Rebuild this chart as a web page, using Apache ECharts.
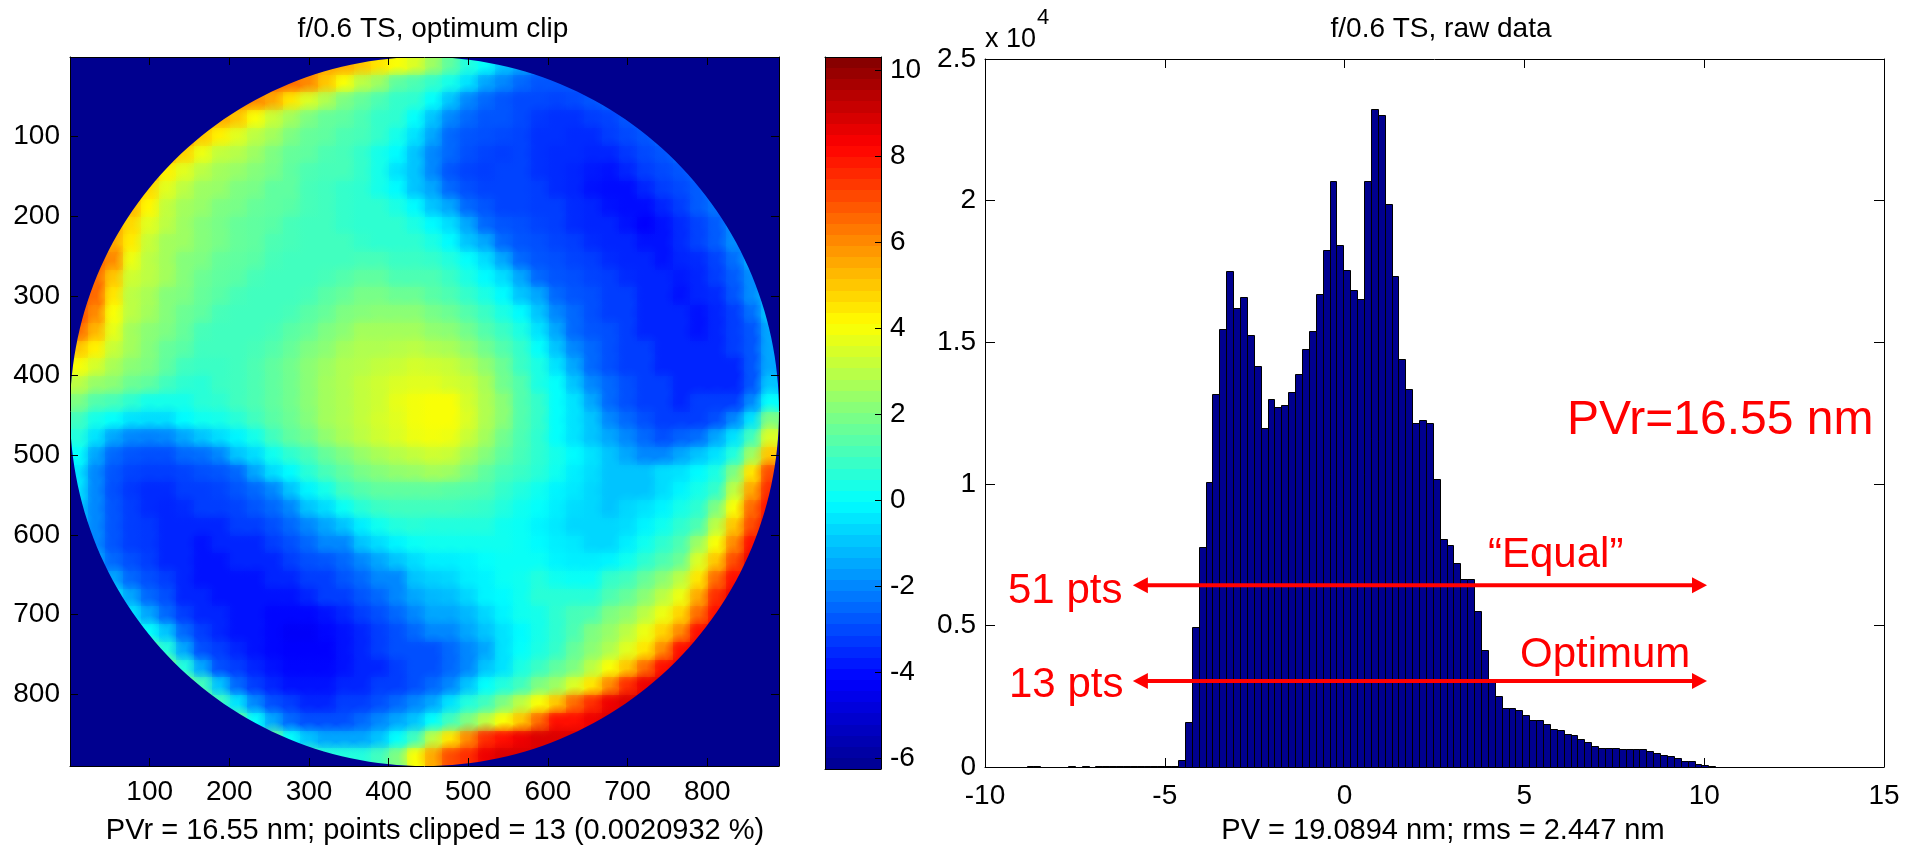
<!DOCTYPE html>
<html><head><meta charset="utf-8">
<style>html,body{margin:0;padding:0;background:#fff}#c{width:1919px;height:846px}</style>
<script src="https://cdn.jsdelivr.net/npm/echarts@6/dist/echarts.min.js"></script>
</head><body><div id="c"></div>
<script>
const mapTicks=[100,200,300,400,500,600,700,800];
const colorTicks=[-6,-4,-2,0,2,4,6,8,10];
// surface height in nm, coarse cells; each row is centred on the disk
const row00=[6,5.5,5.5,5,4.5,4,3.5,2.5,1.5,0.5,0,-1,-1.5,-2];
const row01=[6.5,6.5,6,5,4,3,2.5,1.5,1.2,.8,.3,-.5,-1.5,-2,-2.5,-2.8,-2.8,-2.8];
const row02=[6,6,5.5,4.5,3.5,2.8,2,1.6,1.2,.8,.7,0,-1,-2,-2.5,-2.8,-3,-3,-3.1,-3,-2.8,-2.5];
const row03=[6,5.5,5,4,3.2,2.6,2,1.6,1.5,1.2,.8,.7,0,-1,-2,-2.5,-2.8,-2.8,-3,-3.3,-3.4,-3.4,-3.2,-3.1,-2.8,-2.4];
const row04=[6,5,4.3,3.6,3,2.6,2,1.6,1.5,1.2,1.1,.8,.3,-.5,-1.5,-2.5,-2.8,-2.9,-3,-3.1,-3.4,-3.4,-3.5,-3.5,-3.2,-3,-2.8,-2.4];
const row05=[5.5,4.8,3.8,3.1,2.9,2.5,2,1.6,1.5,1.2,1.1,.8,.3,-.1,-1,-2,-2.5,-2.9,-3.1,-3.2,-3.1,-3.4,-3.5,-3.5,-3.6,-3.6,-3.3,-3,-2.8,-2.4];
const row06=[5.5,4.3,3.6,3,2.6,2.4,2.1,1.9,1.5,1.2,1.1,1.1,.8,.3,-.5,-1,-2,-2.8,-3.1,-3.2,-3.1,-3.1,-3.4,-3.5,-3.6,-3.8,-3.9,-3.6,-3.2,-3,-2.8,-2.4];
const row07=[5.8,4.7,3.6,3,2.5,2.4,2,1.9,1.5,1.5,1.1,1,.8,.7,.3,-.1,-1,-1.5,-2.5,-2.9,-3.1,-3.1,-3.1,-3.2,-3.5,-3.6,-3.9,-4,-4,-3.6,-3.2,-3,-2.7,-1.9];
const row08=[5.3,4.2,3.1,2.6,2.4,2,1.9,1.6,1.5,1.4,1.1,1,.8,.7,.7,.4,-.1,-1,-1.5,-2.5,-2.8,-3.1,-3.1,-3.2,-3.2,-3.5,-3.6,-3.9,-4,-4,-3.6,-3.2,-2.7,-2.3];
const row09=[5.5,4.7,3.6,3,2.5,2.1,1.9,1.6,1.5,1.4,1.1,1,1,.8,.7,.7,.7,.4,-.1,-.6,-1.5,-2.5,-2.8,-2.9,-3.1,-3.2,-3.5,-3.6,-3.6,-3.9,-4.2,-3.9,-3.5,-3.1,-2.7,-1.9];
const row10=[5.5,4.4,3.2,2.6,2.5,2.1,1.9,1.6,1.5,1.2,1.1,1,1,1,.8,.7,.7,.7,.4,-.1,-1,-1.5,-2.5,-2.8,-2.9,-3.1,-3.2,-3.5,-3.6,-3.6,-3.9,-3.9,-3.5,-3.1,-2.7,-1.9];
const row11=[6.5,6,3.8,3,2.6,2.1,2,1.6,1.5,1.4,1.1,1,1,1,1,1.1,1.1,.9,.9,.8,.5,0,-.6,-1.5,-2.5,-2.8,-2.9,-3.1,-3.2,-3.5,-3.6,-3.6,-3.9,-3.6,-3.5,-3.1,-2.4,-1.4];
const row12=[6.5,5,3.3,3,2.6,2.1,1.7,1.5,1.4,1.1,1,1,1,1.1,1.3,1.5,1.5,1.2,1.2,1.2,.9,.4,-.1,-.6,-1.5,-2.5,-2.8,-2.9,-3.1,-3.2,-3.5,-3.6,-3.6,-3.8,-3.6,-3.2,-2.7,-1.9];
const row13=[7,6.5,4.5,3,2.7,2.1,2,1.6,1.4,1.1,1,1,1,1.1,1.4,1.6,1.9,1.9,1.7,1.7,1.4,1.2,.8,.4,-.1,-1,-1.5,-2.5,-2.8,-2.9,-3.2,-3.2,-3.6,-3.6,-3.9,-3.6,-3.5,-2.8,-1.9,-1];
const row14=[7,6,4,3,2.6,2.1,1.7,1.5,1.1,1,1,1,1.1,1.4,1.6,2,2.1,2.2,2.2,2.2,1.9,1.7,1.3,.9,.4,-.1,-1,-2,-2.5,-2.9,-3.2,-3.2,-3.6,-3.6,-3.6,-3.9,-3.6,-3.2,-2.4,-1];
const row15=[6.5,5.3,3.7,2.6,2.2,2,1.6,1.1,1,1,1,1.1,1.4,1.6,2,2.2,2.6,2.6,2.6,2.6,2.3,2.2,1.8,1.3,.9,.4,-.5,-1.5,-2.5,-2.8,-2.9,-3.2,-3.6,-3.6,-3.6,-3.9,-3.6,-3.2,-2.8,-1.5];
const row16=[5,4.3,3.2,2.6,2.1,1.6,1.4,1,1,1,1.1,1.3,1.6,2,2.2,2.6,2.8,2.8,2.9,3,2.8,2.7,2.3,1.8,1.3,.8,0,-1,-2,-2.5,-2.9,-3.2,-3.2,-3.6,-3.6,-3.6,-3.6,-3.2,-2.8,-1.5];
const row17=[4,3.4,2.7,2.2,2,1.5,1,.9,.9,1,1.2,1.5,1.8,2.2,2.5,2.8,2.9,3.1,3.2,3.4,3.3,3.2,2.8,2.3,1.7,.9,.4,-.5,-1.5,-2.5,-2.9,-3.2,-3.2,-3.6,-3.6,-3.6,-3.6,-3.6,-2.8,-1.5];
const row18=[3,2.4,2.2,1.7,1.5,1,.7,.6,.9,1,1.2,1.5,1.8,2.2,2.6,2.8,3.1,3.3,3.5,3.6,3.6,3.4,3.2,2.7,1.8,1.3,.4,0,-1,-2,-2.5,-2.9,-3.2,-3.2,-3.6,-3.6,-3.6,-3.6,-2.8,-1];
const row19=[2,1.3,1.1,.7,.3,.3,.3,.6,.7,1,1.2,1.5,1.8,2.2,2.6,2.8,3.1,3.3,3.7,3.9,4,4,3.4,2.8,2.2,1.3,.8,0,-.5,-1.5,-2.5,-2.9,-3.2,-3.2,-3.6,-3.2,-3.2,-3.2,-2,0];
const row20=[1,.3,0,-.5,-.6,-.6,-.1,.2,.3,.6,1,1.4,1.7,2.1,2.6,2.8,3.1,3.4,3.6,3.9,4,4,3.5,2.8,2.2,1.3,.8,0,-.5,-1,-2,-2.5,-2.9,-3.2,-3.2,-3.2,-2.9,-2,-.5,2];
const row21=[.5,-.5,-1.5,-2,-2.1,-2,-1.5,-1,-.6,-.2,.3,1,1.5,1.8,2.3,2.7,3,3.3,3.5,3.8,3.9,3.8,3.2,2.6,1.8,1.2,.7,0,-.5,-1,-1.5,-2,-2.5,-2.9,-2.6,-2.4,-1.5,-.5,1,3.5];
const row22=[0,-1.5,-2.5,-2.8,-2.9,-2.9,-2.5,-2.4,-2,-1,-.6,.2,.7,1.1,1.6,2,2.4,2.7,2.9,3.1,3.3,3.2,2.6,2.1,1.5,1.1,.7,.3,-.1,-.5,-1,-1.5,-2,-2,-1.5,-1,-.5,.5,2.5,5];
const row23=[-.5,-2,-2.8,-3.1,-3.2,-3.2,-3.1,-2.9,-2.8,-2.5,-1.5,-.6,-.1,.6,1.1,1.5,1.9,2.1,2.3,2.4,2.6,2.5,2,1.5,1.1,.9,.6,.2,-.3,-.6,-1,-1,-1,-.6,-.5,-.1,.4,2,4.5,7];
const row24=[-.5,-2,-2.9,-3.3,-3.5,-3.5,-3.2,-3.2,-3.1,-2.8,-2.5,-2,-1,-.2,.3,1,1.3,1.5,1.5,1.5,1.5,1.4,1.3,1.2,.8,.5,.2,-.2,-.4,-.7,-1,-1,-1,-.6,-.2,.3,.8,3,5.5,7.5];
const row25=[-1,-2,-2.8,-3.2,-3.5,-3.6,-3.5,-3.2,-3.2,-3.1,-2.8,-2.5,-2,-1,-.6,.1,.6,.9,1,1,1,1,.9,.8,.5,.2,0,-.3,-.6,-.7,-1,-.7,-.5,-.2,.3,.7,2,4,6.5,8];
const row26=[-1,-2,-2.8,-3.2,-3.3,-3.6,-3.6,-3.6,-3.6,-3.2,-3.2,-2.9,-2.5,-2,-1.5,-1,-.3,.2,.5,.6,.5,.5,.5,.5,.2,.1,-.2,-.4,-.7,-.7,-.7,-.6,-.2,.2,.7,1.2,3,5,7,8.5];
const row27=[-2,-2.8,-3.2,-3.3,-3.6,-3.6,-3.9,-3.6,-3.6,-3.6,-3.2,-2.9,-2.5,-2,-2,-1,-.6,-.2,.1,.2,.2,.2,.2,.2,.1,-.1,-.3,-.4,-.7,-.7,-.3,.2,.7,1.2,2.5,4,6,8];
const row28=[-1.5,-2.5,-2.9,-3.2,-3.6,-3.6,-3.9,-3.9,-3.6,-3.6,-3.6,-3.2,-2.9,-2.8,-2.5,-2,-1.5,-1,-.6,-.3,-.3,-.2,0,.1,.1,.1,-.2,-.3,-.3,-.2,.2,.7,1.2,1.7,3.5,5,7,8.5];
const row29=[-1.5,-2.5,-2.9,-3.2,-3.6,-3.9,-3.9,-3.9,-3.9,-3.6,-3.6,-3.2,-3.2,-2.8,-2.5,-2,-2,-1,-.8,-.7,-.3,-.2,.1,.2,.5,.2,.1,.1,.8,1,1.6,2.2,3,4.5,6.5,8];
const row30=[-.5,-1.5,-2.5,-2.9,-3.6,-3.6,-3.9,-3.9,-3.9,-3.9,-3.9,-3.6,-3.2,-3.2,-2.8,-2.5,-2,-1.5,-1.2,-1.1,-.7,-.2,-.1,.2,.6,.6,.6,.6,1.2,1.6,2.2,3,3.8,5.5,7.5,8.5];
const row31=[-.5,-1.5,-2.5,-3.2,-3.6,-3.6,-3.9,-3.9,-4.1,-4.1,-4.1,-3.9,-3.6,-3.2,-2.9,-2.5,-2,-1.5,-1.5,-1.2,-.7,-.2,.2,.3,.7,1.1,1.2,2,2.3,3,3.8,4.8,6.5,8];
const row32=[.5,0,-1,-2.5,-3.2,-3.6,-3.9,-3.9,-4.1,-4.3,-4.3,-4.1,-3.9,-3.6,-3.2,-2.9,-2.5,-2,-2,-1.5,-1,-.5,-.1,.3,.7,1.2,2,2.4,3,3.8,4.8,6,8,8.5];
const row33=[1.5,.5,-1.5,-2.9,-3.2,-3.6,-3.9,-4.1,-4.2,-4.2,-4.2,-3.9,-3.6,-3.2,-2.9,-2.9,-2.9,-2.5,-2,-1.5,-.5,0,.4,.8,1.6,2.2,2.8,3.6,4.5,6,8,8.5];
const row34=[2,.5,-1.5,-2.9,-3.2,-3.6,-3.9,-4.1,-4.1,-4.1,-3.9,-3.6,-3.6,-3.2,-2.9,-2.9,-2.5,-2,-1,-.5,.4,.9,1.5,2,3,4,5,6.5,8,8.5];
const row35=[2,1,-1,-2.5,-3.2,-3.6,-3.9,-3.9,-3.9,-3.6,-3.6,-3.2,-3.2,-2.9,-2.5,-2,-1,0,.5,1,2,2.5,3.5,4.5,6,7.5,8.5,8.8];
const row36=[2,1,-.5,-2,-2.9,-3.2,-3.6,-3.6,-3.2,-3.2,-2.9,-2.5,-2,-1.5,-.5,.5,1,2,3,4,5,6.5,7.5,8.5,8.8,8.8];
const row37=[1.5,0,-1.5,-2.5,-2.9,-2.9,-2.9,-2.5,-2,-1.5,-1,0,1,2,3,4,5,6.5,8,8,8.5,8.8];
const row38=[1.5,0,-1,-1.5,-1.5,-1.5,-1,0,1,3,4.5,6,7.5,8,8.5,8.8,8.8,8.8];
const row39=[1,0.5,0.5,0.5,1,2,4,5.5,7,7.5,8.5,8.8,8.8,8.8];
const mapRows=[row00,row01,row02,row03,row04,row05,row06,row07,row08,row09,row10,row11,row12,row13,row14,row15,row16,row17,row18,row19,row20,row21,row22,row23,row24,row25,row26,row27,row28,row29,row30,row31,row32,row33,row34,row35,row36,row37,row38,row39];
// histogram, counts in units of 10^4
const binCounts=[.003,.004,.0005,.0005,.0005,.0005,.002,.0005,.003,.001,.003,.003,.003,.003,.003,.003,.003,.003,.003,.003,.003,.003,.024,
.159,.494,.776,1.006,1.318,1.548,1.751,1.622,1.66,1.524,1.416,1.198,1.30,1.271,1.28,1.324,1.387,1.477,1.538,1.671,1.824,2.068,1.842,1.756,1.684,1.654,2.068,2.325,2.301,1.989,1.732,1.439,1.336,1.215,1.226,1.215,1.018,.806,.783,.72,.665,.665,.55,.414,.30,.25,.207,.207,.202,.184,.165,.165,.153,.134,.130,.118,.112,.098,.087,.074,.067,.067,.067,.062,.062,.062,.062,.056,.049,.042,.039,.032,.02,.02,.012,.006,.005];
const binStart=-8.845, binWidth=0.1915;
const arrowEqual=[[-5.68,0.6416],[9.87,0.6416]];
const arrowOptimum=[[-5.68,0.3037],[9.87,0.3037]];

const FONT='"Liberation Sans",Arial,sans-serif';
const NAVY='#00008F';
const MAP_SIZE=890, CELLS=40, CELL=MAP_SIZE/CELLS, RAD=445;
const CMIN=-6.25, CMAX=10.3;
const jet=['#00008F','#0000ff','#0080ff','#00ffff','#80ff80','#ffff00','#ff8000','#ff0000','#800000'];

const heatData=[];
mapRows.forEach((r,j)=>{const s=Math.round((CELLS-r.length)/2);r.forEach((v,k)=>heatData.push([(s+k+.5)*CELL,(j+.5)*CELL,v]));});
const barLevels=[];for(let i=0;i<64;i++){const w=(CMAX-CMIN)/64;barLevels.push([CMIN+i*w,CMIN+(i+1)*w,CMIN+(i+.5)*w]);}
const barData=binCounts.map((v,i)=>[binStart+i*binWidth,binStart+(i+1)*binWidth,v]);

const line={show:true,onZero:false,lineStyle:{color:'#000',width:1}};
const lab=(o)=>Object.assign({color:'#000',fontFamily:FONT,fontSize:28},o||{});
const tick=(len,o)=>Object.assign({show:true,inside:true,length:len,lineStyle:{color:'#000',width:1}},o||{});
const blank={axisLabel:{show:false},axisTick:{show:false}};
const cap=(text,left,top,size)=>({text,left,top,textAlign:'center',textVerticalAlign:'middle',textStyle:{fontFamily:FONT,fontSize:size,fontWeight:'normal',color:'#000'}});

const chart=echarts.init(document.getElementById('c'),null,{renderer:'canvas'});
chart.setOption({
 animation:false,backgroundColor:'#fff',
 title:[
  cap('f/0.6 TS, optimum clip',428,24,28),
  cap('f/0.6 TS, raw data',1436,24,28),
  cap('PVr = 16.55 nm; points clipped = 13 (0.0020932 %)',430,826,29),
  cap('PV = 19.0894 nm; rms = 2.447 nm',1438,826,29)
 ],
 grid:[
  {left:70,top:57,width:709,height:709,show:true,backgroundColor:NAVY,borderWidth:0},
  {left:825,top:57,width:56,height:712},
  {left:985,top:59,width:899,height:708}
 ],
 xAxis:[
  {gridIndex:0,type:'value',min:0,max:MAP_SIZE,position:'bottom',z:5,axisLine:line,splitLine:{show:false},
   axisTick:tick(8,{customValues:mapTicks}),axisLabel:lab({margin:12,customValues:mapTicks})},
  {gridIndex:0,type:'value',min:0,max:MAP_SIZE,position:'top',z:5,axisLine:line,splitLine:{show:false},
   axisTick:tick(8,{customValues:mapTicks}),axisLabel:{show:false}},
  {gridIndex:1,type:'value',min:0,max:1,position:'bottom',z:5,axisLine:line,splitLine:{show:false},...blank},
  {gridIndex:1,type:'value',min:0,max:1,position:'top',z:5,axisLine:line,splitLine:{show:false},...blank},
  {gridIndex:2,type:'value',min:-10,max:15,interval:5,position:'bottom',axisLine:line,splitLine:{show:false},
   axisTick:tick(9),axisLabel:lab({margin:15,showMinLabel:true,showMaxLabel:true})},
  {gridIndex:2,type:'value',min:-10,max:15,interval:5,position:'top',axisLine:line,splitLine:{show:false},
   axisTick:tick(9),axisLabel:{show:false}}
 ],
 yAxis:[
  {gridIndex:0,type:'value',min:0,max:MAP_SIZE,inverse:true,position:'left',z:5,axisLine:line,splitLine:{show:false},
   axisTick:tick(8,{customValues:mapTicks}),axisLabel:lab({margin:10,customValues:mapTicks})},
  {gridIndex:0,type:'value',min:0,max:MAP_SIZE,inverse:true,position:'right',z:5,axisLine:line,splitLine:{show:false},
   axisTick:tick(8,{customValues:mapTicks}),axisLabel:{show:false}},
  {gridIndex:1,type:'value',min:CMIN,max:CMAX,position:'left',z:5,axisLine:line,splitLine:{show:false},...blank},
  {gridIndex:1,type:'value',min:CMIN,max:CMAX,position:'right',z:5,axisLine:line,splitLine:{show:false},
   axisTick:tick(6,{customValues:colorTicks}),axisLabel:lab({margin:9,customValues:colorTicks})},
  {gridIndex:2,type:'value',min:0,max:2.5,interval:.5,position:'left',axisLine:line,splitLine:{show:false},
   axisTick:tick(10),axisLabel:lab({margin:9})},
  {gridIndex:2,type:'value',min:0,max:2.5,interval:.5,position:'right',axisLine:line,splitLine:{show:false},
   axisTick:tick(10),axisLabel:{show:false}}
 ],
 visualMap:[{show:false,type:'continuous',seriesIndex:[0,1,3],dimension:2,min:CMIN,max:CMAX,inRange:{color:jet}}],
 series:[
  {type:'custom',name:'map',xAxisIndex:0,yAxisIndex:0,data:heatData,dimensions:['x','y','nm'],encode:{x:0,y:1},clip:true,z:2,
   renderItem:(p,api)=>{
    const a=api.coord([api.value(0)-CELL/2,api.value(1)-CELL/2]),b=api.coord([api.value(0)+CELL/2,api.value(1)+CELL/2]);
    const x=Math.round(a[0]),y=Math.round(a[1]);
    return {type:'rect',shape:{x,y,width:Math.round(b[0])-x,height:Math.round(b[1])-y},style:{fill:api.visual('color')}};
   }},
  {type:'custom',name:'mapShade',xAxisIndex:0,yAxisIndex:0,data:heatData,dimensions:['x','y','nm'],encode:{x:0,y:1},clip:true,z:2,silent:true,
   renderItem:(p,api)=>{
    const c=api.coord([api.value(0),api.value(1)]),e=api.coord([api.value(0)+CELL,api.value(1)]);
    const col=api.visual('color');
    return {type:'circle',shape:{cx:c[0],cy:c[1],r:e[0]-c[0]},style:{fill:new echarts.graphic.RadialGradient(.5,.5,.5,[
      {offset:0,color:col},{offset:1,color:echarts.color.modifyAlpha(col,0)}])}};
   }},
  {type:'custom',name:'mask',xAxisIndex:0,yAxisIndex:0,data:[[0,0]],encode:{x:0,y:1},clip:true,z:3,silent:true,
   renderItem:(p,api)=>{
    const pts=[[0,0],[MAP_SIZE,0],[MAP_SIZE,MAP_SIZE],[0,MAP_SIZE],[0,0]].map(c=>api.coord(c));
    const c=MAP_SIZE/2;
    for(let t=0;t<=360;t+=1.5){const r=-t*Math.PI/180;pts.push(api.coord([c+RAD*Math.cos(r+Math.PI),c+RAD*Math.sin(r+Math.PI)]));}
    return {type:'polygon',shape:{points:pts},style:{fill:NAVY}};
   }},
  {type:'custom',name:'scale',xAxisIndex:2,yAxisIndex:2,data:barLevels,dimensions:['lo','hi','nm'],encode:{y:[0,1]},z:2,
   renderItem:(p,api)=>{
    const a=api.coord([0,api.value(1)]),b=api.coord([1,api.value(0)]);
    const y=Math.round(a[1]);
    return {type:'rect',shape:{x:a[0],y,width:b[0]-a[0],height:Math.round(b[1])-y},style:{fill:api.visual('color')}};
   }},
  {type:'custom',name:'hist',xAxisIndex:4,yAxisIndex:4,data:barData,dimensions:['x0','x1','count'],encode:{x:[0,1],y:2},z:2,
   renderItem:(p,api)=>{
    const a=api.coord([api.value(0),api.value(2)]),b=api.coord([api.value(1),0]);
    const x=Math.round(a[0])+.5,y=Math.round(a[1])+.5;
    return {type:'rect',shape:{x,y,width:Math.round(b[0])-Math.round(a[0]),height:Math.round(b[1])-Math.round(a[1])},style:{fill:NAVY,stroke:'#000',lineWidth:1}};
   }},
  ...[arrowEqual,arrowOptimum].map(d=>({type:'line',xAxisIndex:4,yAxisIndex:4,data:d,z:6,showSymbol:true,showAllSymbol:true,
    symbol:'triangle',symbolSize:[16,15],symbolRotate:(v,p)=>p.dataIndex===0?90:-90,
    lineStyle:{color:'#ff0000',width:4},itemStyle:{color:'#ff0000'},silent:true}))
 ],
 graphic:[
  ...[
   ['x 10',985,42,27,'#000'],['4',1037,20,22,'#000'],
   ['PVr=16.55 nm',1567,426,48,'#f00'],
   ['51 pts',1008,596,42,'#f00'],['13 pts',1009,690,42,'#f00'],
   ['\u201cEqual\u201d',1488,560,42,'#f00'],['Optimum',1520,660,42,'#f00']
  ].map(t=>({type:'text',z:20,left:t[1],top:t[2]-t[3]*.6,style:{text:t[0],fontFamily:FONT,fontSize:t[3],fill:t[4]}}))
 ]
});
</script></body></html>
